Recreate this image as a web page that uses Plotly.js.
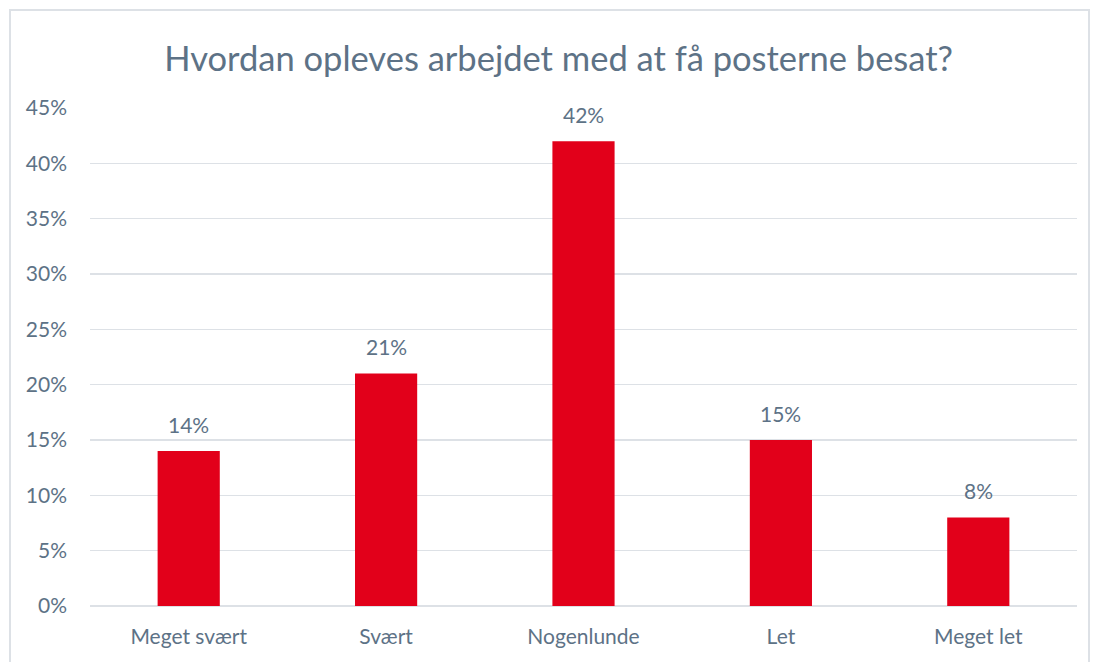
<!DOCTYPE html>
<html>
<head>
<meta charset="utf-8">
<script src="https://cdn.plot.ly/plotly-3.0.1.min.js"></script>
<style>
html,body{margin:0;padding:0;background:#fff;}
#frame{position:absolute;left:9px;top:9px;width:1081px;height:660px;border:2px solid #dde1e6;box-sizing:border-box;}
#chart{position:absolute;left:10px;top:10px;width:1080px;height:652px;}
</style>
</head>
<body>
<div id="frame"></div>
<div id="chart"></div>
<script>
const categories = ["Meget svært", "Svært", "Nogenlunde", "Let", "Meget let"];
const values = [0.14, 0.21, 0.42, 0.15, 0.08];
const labels = ["14%", "21%", "42%", "15%", "8%"];
const tickVals = [0, 0.05, 0.10, 0.15, 0.20, 0.25, 0.30, 0.35, 0.40, 0.45];
const tickText = ["0%", "5%", "10%", "15%", "20%", "25%", "30%", "35%", "40%", "45%"];

const textColor = "#5d7286";
const fontFam = "Lato, 'Open Sans', sans-serif";

const annotations = categories.map((c, i) => ({
  x: c, y: values[i], xref: "x", yref: "y",
  text: labels[i], showarrow: false,
  yanchor: "middle", yshift: 27,
  font: {family: fontFam, size: 21, color: textColor}
}));

Plotly.newPlot("chart", [{
  type: "bar",
  x: categories,
  y: values,
  marker: {color: "#e2001a"},
  width: 0.315,
  hoverinfo: "skip"
}], {
  width: 1080,
  height: 652,
  margin: {l: 80, r: 13, t: 98, b: 56},
  paper_bgcolor: "rgba(0,0,0,0)",
  plot_bgcolor: "#fff",
  showlegend: false,
  annotations: annotations,
  title: {
    text: "Hvordan opleves arbejdet med at få posterne besat?",
    font: {family: fontFam, size: 34.5, color: textColor},
    x: 0.508, xanchor: "center", y: 0.925, yanchor: "middle"
  },
  xaxis: {
    tickfont: {family: fontFam, size: 21, color: textColor},
    showgrid: false, showline: false, zeroline: false, ticks: "",
    ticklabelstandoff: 16
  },
  yaxis: {
    range: [0, 0.45],
    tickvals: tickVals,
    ticktext: tickText,
    tickfont: {family: fontFam, size: 21, color: textColor},
    showgrid: true, gridcolor: "#dde1e6", gridwidth: 1.5,
    zeroline: true, zerolinecolor: "#dde1e6", zerolinewidth: 1.5,
    showline: false, ticks: "", ticklabelstandoff: 22
  }
}, {displayModeBar: false, staticPlot: true});
</script>
</body>
</html>
